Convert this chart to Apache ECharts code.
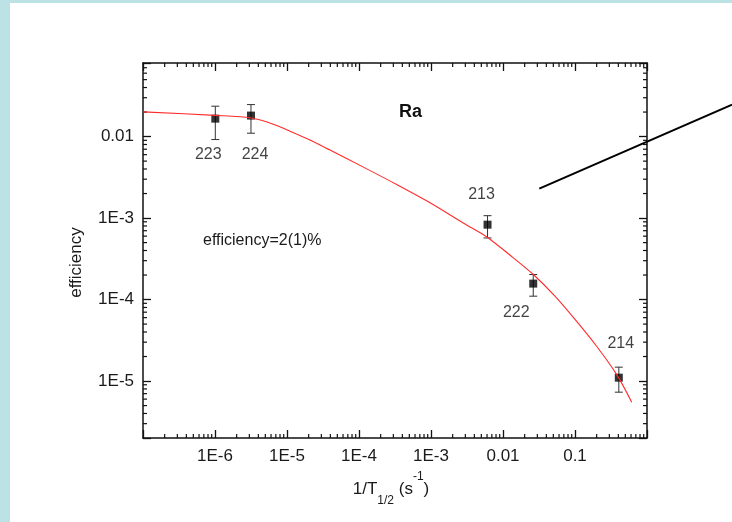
<!DOCTYPE html>
<html>
<head>
<meta charset="utf-8">
<script src="https://cdn.jsdelivr.net/npm/echarts@6/dist/echarts.min.js"></script>
<style>
  html, body { margin:0; padding:0; background:#bce2e5; }
  #chart { position:absolute; left:10px; top:3px; width:722px; height:519px; background:#fff; }
</style>
</head>
<body>
<div id="chart"></div>
<script>
// measured Ra points: 1/T1/2 (s^-1) vs efficiency
var isotopes = ['223', '224', '213', '222', '214'];
var rate     = [1.01e-6, 3.16e-6, 6.1e-3, 0.0263, 0.406];
var eff      = [0.0166, 0.0181, 8.3e-4, 1.57e-4, 1.1e-5];
var effHigh  = [0.0236, 0.0247, 1.07e-3, 2.03e-4, 1.48e-5];
var effLow   = [0.0092, 0.0110, 5.7e-4, 1.1e-4, 7.3e-6];

// red fit curve
var fitX = [1e-7, 1e-6, 3.2e-6, 6.45e-6, 1.88e-5, 3.95e-5, 1.15e-4, 3.34e-4, 9.7e-4, 2.8e-3, 5.9e-3, 0.0139, 0.0264, 0.0527, 0.1, 0.196, 0.38, 0.614];
var fitY = [0.0201, 0.0182, 0.0169, 0.0142, 9.45e-3, 6.83e-3, 4.22e-3, 2.58e-3, 1.54e-3, 8.7e-4, 5.9e-4, 3.25e-4, 2.03e-4, 1.1e-4, 5.7e-5, 2.73e-5, 1.2e-5, 5.5e-6];

// black pointer line (runs out of the frame to the right)
var pointerX = [0.0319, 15.2];
var pointerY = [2.3e-3, 0.0247];

var xMin = 1e-7, xMax = 1;
var yMin = 2e-6, yMax = 0.08;
var xTickValues = [1e-6, 1e-5, 1e-4, 1e-3, 0.01, 0.1];
var xTickLabels = ['1E-6', '1E-5', '1E-4', '1E-3', '0.01', '0.1'];
var yTickValues = [1e-5, 1e-4, 1e-3, 0.01];
var yTickLabels = ['1E-5', '1E-4', '1E-3', '0.01'];

var FONT = '"Liberation Sans", Arial, sans-serif';

function minorTicks(lo, hi){
  var out = [];
  for (var e = Math.floor(Math.log10(lo)); e < Math.ceil(Math.log10(hi)); e++){
    for (var m = 2; m <= 9; m++){
      var v = m * Math.pow(10, e);
      if (v > lo * 1.0001 && v < hi * 0.9999) out.push(v);
    }
  }
  return out;
}
var xMinor = minorTicks(xMin, xMax);
var yMinor = minorTicks(yMin, yMax);

function labelFor(values, labels){
  return function(v){
    for (var i = 0; i < values.length; i++){
      if (Math.abs(Math.log10(v) - Math.log10(values[i])) < 1e-6) return labels[i];
    }
    return '';
  };
}

var chart = echarts.init(document.getElementById('chart'));

var axisLine = {show:true, onZero:false, lineStyle:{color:'#111', width:1.5}};
var majorTick = {show:true, inside:true, length:8, lineStyle:{color:'#111', width:1.3}};

var labelOffsets = [[-7, 36], [4, 39], [-6, -30], [-17, 29], [2, -34]];

option = {
  animation: false,
  grid: {left:133, top:60, right:85, bottom:84},
  xAxis: [{
    type:'log', min:xMin, max:xMax, position:'bottom',
    axisLine: axisLine, axisTick: majorTick, splitLine:{show:false},
    axisLabel:{margin:10, fontSize:17, color:'#1a1a1a', fontFamily:FONT,
      formatter: labelFor(xTickValues, xTickLabels)},
    name:'{a|1/T}{sub|1/2}{a| (s}{sup|-1}{a|)}',
    nameLocation:'middle', nameGap:33,
    nameTextStyle:{padding:[0, 8, 0, 0], rich:{
      a:{fontSize:17, color:'#1a1a1a', fontFamily:FONT, lineHeight:36, verticalAlign:'middle'},
      sub:{fontSize:12, color:'#1a1a1a', fontFamily:FONT, lineHeight:12, verticalAlign:'bottom'},
      sup:{fontSize:12, color:'#1a1a1a', fontFamily:FONT, lineHeight:25, verticalAlign:'top'}
    }}
  }, {
    type:'log', min:xMin, max:xMax, position:'top',
    axisLine: axisLine, axisTick: majorTick, splitLine:{show:false},
    axisLabel:{show:false}
  }],
  yAxis: [{
    type:'log', min:yMin, max:yMax, position:'left',
    axisLine: axisLine, axisTick: majorTick, splitLine:{show:false},
    axisLabel:{margin:9, fontSize:17, color:'#1a1a1a', fontFamily:FONT,
      formatter: labelFor(yTickValues, yTickLabels)},
    name:'efficiency', nameLocation:'middle', nameGap:58,
    nameTextStyle:{fontSize:17, color:'#1a1a1a', fontFamily:FONT, padding:[0, 24, 0, 0]}
  }, {
    type:'log', min:yMin, max:yMax, position:'right',
    axisLine: axisLine, axisTick: majorTick, splitLine:{show:false},
    axisLabel:{show:false}
  }],
  graphic: [
    {id:'ra', type:'text', left:389, top:100, style:{text:'Ra', font:'bold 18px ' + FONT, fill:'#111'}},
    {id:'note', type:'text', left:193, top:230, style:{text:'efficiency=2(1)%', font:'16px ' + FONT, fill:'#1a1a1a'}}
  ],
  series: [
    {
      name:'minor x', type:'custom', silent:true, clip:false,
      data: xMinor.map(function(v){ return [v, yMin]; }),
      renderItem: function(params, api){
        var cs = params.coordSys;
        var x = api.coord([api.value(0), yMin])[0];
        var yb = cs.y + cs.height, yt = cs.y;
        var st = {stroke:'#111', lineWidth:1.2};
        return {type:'group', children:[
          {type:'line', shape:{x1:x, y1:yb, x2:x, y2:yb - 4}, style:st},
          {type:'line', shape:{x1:x, y1:yt, x2:x, y2:yt + 4}, style:st}
        ]};
      }
    },
    {
      name:'minor y', type:'custom', silent:true, clip:false,
      data: yMinor.map(function(v){ return [xMin, v]; }),
      renderItem: function(params, api){
        var cs = params.coordSys;
        var y = api.coord([xMin, api.value(1)])[1];
        var xl = cs.x, xr = cs.x + cs.width;
        var st = {stroke:'#111', lineWidth:1.2};
        return {type:'group', children:[
          {type:'line', shape:{x1:xl, y1:y, x2:xl + 4, y2:y}, style:st},
          {type:'line', shape:{x1:xr, y1:y, x2:xr - 4, y2:y}, style:st}
        ]};
      }
    },
    {
      name:'fit', type:'line', smooth:0.3, symbol:'none',
      lineStyle:{color:'#ff2b2b', width:1.1},
      data: fitX.map(function(x, i){ return [x, fitY[i]]; })
    },
    {
      name:'errors', type:'custom', silent:true,
      data: rate.map(function(x, i){ return [x, effLow[i], effHigh[i]]; }),
      renderItem: function(params, api){
        var lo = api.coord([api.value(0), api.value(1)]);
        var hi = api.coord([api.value(0), api.value(2)]);
        var st = {stroke:'#333', lineWidth:1};
        return {type:'group', children:[
          {type:'line', shape:{x1:lo[0], y1:lo[1], x2:hi[0], y2:hi[1]}, style:st},
          {type:'line', shape:{x1:lo[0] - 4, y1:lo[1], x2:lo[0] + 4, y2:lo[1]}, style:st},
          {type:'line', shape:{x1:hi[0] - 4, y1:hi[1], x2:hi[0] + 4, y2:hi[1]}, style:st}
        ]};
      }
    },
    {
      name:'Ra', type:'scatter', symbol:'rect', symbolSize:8,
      itemStyle:{color:'#000'},
      data: rate.map(function(x, i){
        return {value:[x, eff[i]], label:{show:true, position:'inside', offset:labelOffsets[i],
          formatter:isotopes[i], fontSize:16, color:'#111', fontFamily:FONT}};
      })
    }
  ]
};

chart.setOption(option);

// pointer line: placed through the axes, drawn unclipped past the frame
var p1 = chart.convertToPixel({xAxisIndex:0, yAxisIndex:0}, [pointerX[0], pointerY[0]]);
var p2 = chart.convertToPixel({xAxisIndex:0, yAxisIndex:0}, [pointerX[1], pointerY[1]]);
chart.setOption({graphic: [
  {id:'pointer', type:'line', z:10, shape:{x1:p1[0], y1:p1[1], x2:p2[0], y2:p2[1]},
   style:{stroke:'#000', lineWidth:2}}
]});
</script>
</body>
</html>
